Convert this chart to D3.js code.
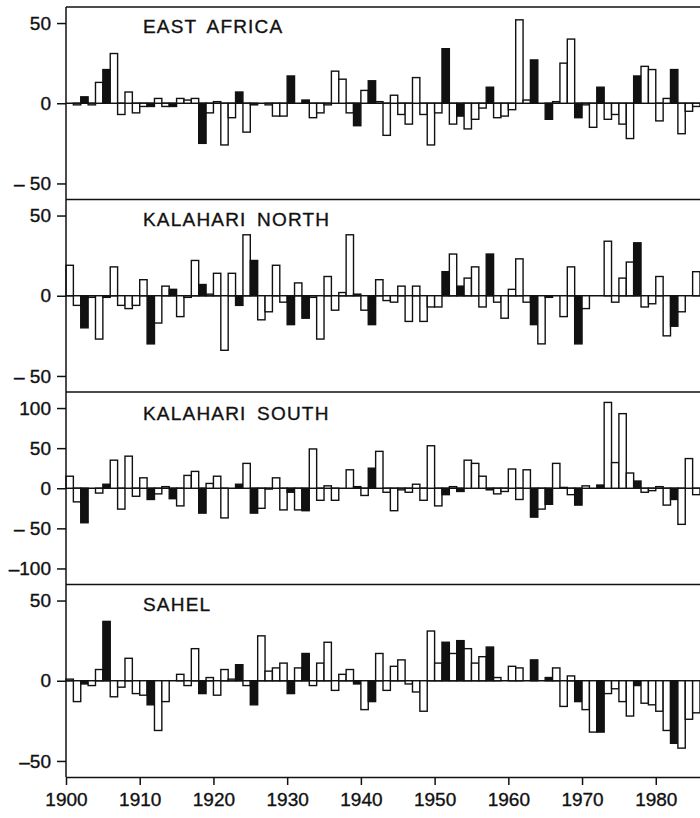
<!doctype html>
<html lang="en">
<head>
    <title>African rainfall departures 1900-1985</title>
    <script src="https://d3js.org/d3.v7.min.js"></script>
    <style>
        body { margin: 0; background: #fff; }
        text { font-family: "Liberation Sans", Arial, sans-serif; fill: #111; stroke: #111; stroke-width: 0.35px; }
    </style>
</head>
<body>
<script>
    // Years on the x axis (one bar per year)
    const years = d3.range(1900, 1986);
    const decadeTicks = [1900, 1910, 1920, 1930, 1940, 1950, 1960, 1970, 1980];

    // Years drawn as solid bars
    const warmYears = [1902, 1905, 1911, 1914, 1918, 1923, 1925, 1930, 1932, 1939,
                       1941, 1951, 1953, 1957, 1963, 1965, 1969, 1972, 1977, 1982];

    // Rainfall departures (%), 1900 .. 1985
    const eastAfrica = [
         0,  -1,   4,  -1,  13,  21,  31,  -7,   7,  -6,
        -2,  -2,   3,  -2,  -2,   3,   2,   3, -25,  -6,
         1, -26,  -9,   7, -18,  -1,   0,  -1,  -8,  -8,
        17,   0,   2,  -9,  -6,  -1,  20,  15,  -6, -14,
         8,  14,   1, -20,   5,  -7, -13,  16,  -7, -26,
        -6,  34, -13,  -8, -16, -10,  -3,  10,  -9,  -8,
        -4,  52,   2,  27,   0, -10,   1,  25,  40,  -9,
        -1, -15,  10, -10,  -7, -13, -22,  17,  23,  21,
       -11,   3,  21, -19,  -5,  -2
    ];
    const kalahariNorth = [
        19,  -6, -20,  -1, -27,  -1,  18,  -6,  -8,  -6,
        10, -30, -17,   6,   4, -13,  -1,  22,   7,   1,
        14, -34,  14,  -6,  38,  22, -15, -10,  19,  -4,
       -18,   8, -14,  -1, -27,  12,  -9,   2,  38,   1,
        -9, -18,  10,  -3,  -4,   6, -16,   6, -16,  -7,
        -7,  15,  26,   6,  11,  18,  -7,  26,  -4, -14,
         4,  23,  -4, -18, -30,  -1,   0, -13,  18, -30,
        -8,   0,   0,  34,  -4,  11,  21,  33,  -7,  -5,
        12, -25, -19, -10,   0,  15
    ];
    const kalahariSouth = [
        15, -17, -43,   0,  -6,   5,  35, -26,  40, -10,
        13, -14,  -7,   2, -13, -22,  16,  21, -31,   6,
        15, -37,   0,   5,  31, -31, -25,  -1,  13, -27,
        -5, -27, -28,  49, -15,   3, -15,   0,  23,   2,
        -9,  25,  46,  -5, -28,  -2,  -5,   5, -15,  53,
       -22,  -8,   2,  -4,  35,  31,  15,  -2,  -7,  -4,
        24, -14,  23, -36, -26, -20,  31,   1,  -8, -21,
         3,   0,   4, 107,  32,  93,  19,   9,  -5,  -3,
         2, -21, -14, -45,  37,  -8
    ];
    const sahel = [
         1, -13,  -2,  -3,   7,  37, -10,  -4,  14,  -8,
        -9, -15, -31, -13,   0,   4,  -3,  20,  -8,   2,
        -9,   7,   1,  10,  -3, -15,  28,   6,   8,  11,
        -8,   8,  17,  -3,  11,  24,  -6,   4,   7,  -2,
       -18, -13,  17,  -6,   9,  13,  -2,  -7, -19,  31,
        11,  24,  17,  25,  20,  11,  15,  21,   2,   0,
         9,   8,   0,  13,   0,   2,   8, -16,   3, -13,
       -18, -32, -32,  -8,  -5, -13, -22,  -3, -14, -15,
       -19, -31, -39, -42, -24, -20
    ];

    const panelNames  = ["EAST AFRICA", "KALAHARI NORTH", "KALAHARI SOUTH", "SAHEL"];
    const panelLimits = [60, 60, 120, 60];
    const smallTicks  = [-50, 0, 50];
    const bigTicks    = [-100, -50, 0, 50, 100];

    // Set Dimensions
    const xSize  = 700;   const ySize  = 818;
    const xLeft  = 66;    const xRight = 700;
    const yTop   = 7;     const panelH = 192.5;
    const ink    = "#111";

    const svg = d3.select("body")
        .append("svg")
        .attr("width", xSize)
        .attr("height", ySize);

    // shared year scale
    const x = d3.scaleLinear()
        .domain([1900, 1986])
        .range([xLeft, xRight]);

    function drawPanel(name, values, limit, ticks, index)
    {
        const y0 = yTop + index * panelH;
        const y  = d3.scaleLinear()
            .domain([-limit, limit])
            .range([y0 + panelH, y0]);

        const g = svg.append("g");

        // top border of the panel
        g.append("line")
            .attr("x1", xLeft).attr("x2", xRight)
            .attr("y1", y0).attr("y2", y0)
            .attr("stroke", ink).attr("stroke-width", 1.5);

        // zero line
        g.append("line")
            .attr("x1", xLeft).attr("x2", xRight)
            .attr("y1", y(0)).attr("y2", y(0))
            .attr("stroke", ink).attr("stroke-width", 1.3);

        // bars
        g.selectAll("rect")
            .data(values.map((v, i) => ({ year: years[i], value: v })))
            .join("rect")
            .attr("x", d => x(d.year))
            .attr("width", d => x(d.year + 1) - x(d.year))
            .attr("y", d => y(Math.max(0, d.value)))
            .attr("height", d => Math.abs(y(d.value) - y(0)))
            .attr("fill", d => warmYears.includes(d.year) ? ink : "#fff")
            .attr("stroke", ink)
            .attr("stroke-width", 1.4);

        // left axis ticks and labels
        const fmt = d => {
            if (d >= 0) return d;
            if (d === -100) return "\u2013100";
            return index === 3 ? "\u2013" + (-d) : "\u2013\u00a0" + (-d);
        };
        const axis = g.append("g")
            .attr("transform", `translate(${xLeft},0)`)
            .call(d3.axisLeft(y).tickValues(ticks).tickSize(9).tickPadding(6).tickFormat(fmt));
        axis.select(".domain").remove();
        axis.selectAll("line").attr("stroke", ink).attr("stroke-width", 1.5);
        axis.selectAll("text")
            .attr("font-family", null)
            .attr("font-size", 19);

        // panel title
        g.append("text")
            .attr("x", 143)
            .attr("y", y0 + (index === 2 ? 28 : 26))
            .attr("font-size", 19)
            .attr("letter-spacing", 1.2)
            .attr("word-spacing", 4)
            .text(name);
    }

    const allSeries = [eastAfrica, kalahariNorth, kalahariSouth, sahel];
    allSeries.forEach((s, i) => {
        drawPanel(panelNames[i], s, panelLimits[i], i === 2 ? bigTicks : smallTicks, i);
    });

    // left axis line
    const yBottom = yTop + 4 * panelH;
    svg.append("line")
        .attr("x1", xLeft).attr("x2", xLeft)
        .attr("y1", yTop).attr("y2", yBottom)
        .attr("stroke", ink).attr("stroke-width", 1.5);

    // bottom (year) axis
    const xAxis = svg.append("g")
        .attr("transform", `translate(0,${yBottom})`)
        .call(d3.axisBottom(x).tickValues(decadeTicks).tickSize(8).tickSizeOuter(0)
              .tickPadding(8).tickFormat(d3.format("d")));
    xAxis.select(".domain").attr("stroke", ink).attr("stroke-width", 1.5);
    xAxis.selectAll("line").attr("stroke", ink).attr("stroke-width", 1.5);
    xAxis.selectAll("text")
        .attr("font-family", null)
        .attr("font-size", 19);
</script>
</body>
</html>
